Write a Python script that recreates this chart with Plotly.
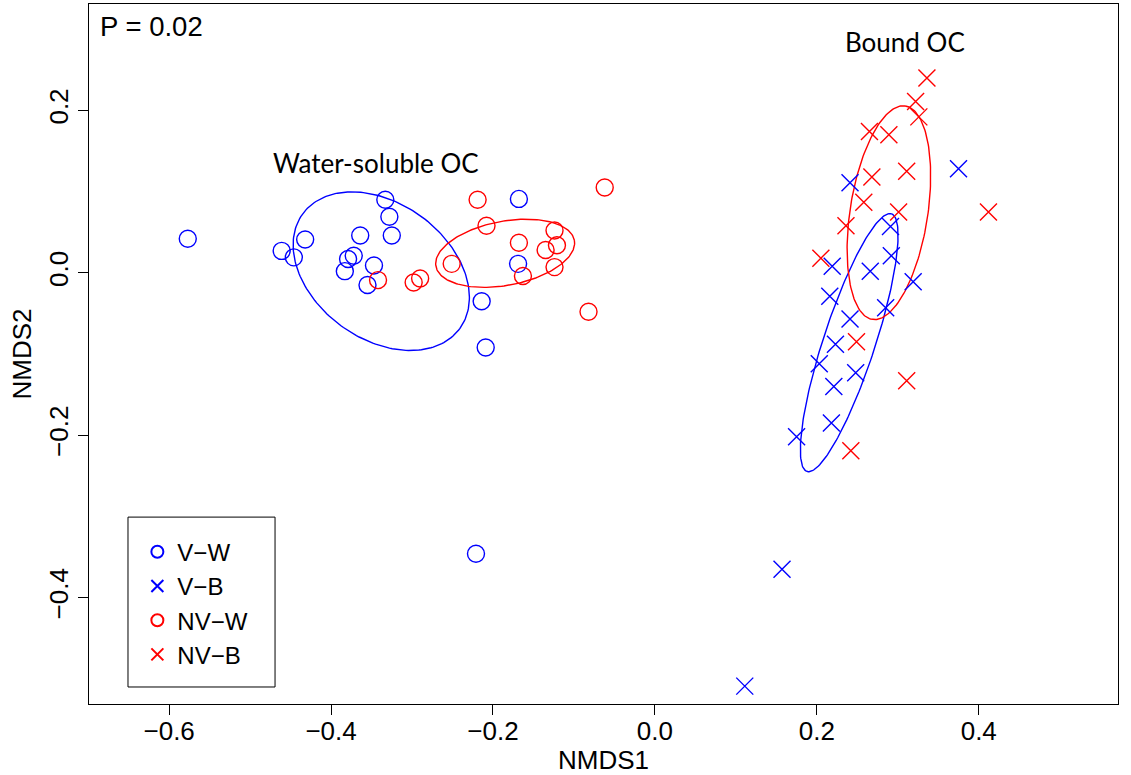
import numpy as np
import plotly.graph_objects as go

# ---- data (NMDS scores) ----
vw_x = [-0.577, -0.461, -0.446, -0.432, -0.333, -0.328, -0.325, -0.364, -0.372,
        -0.379, -0.383, -0.347, -0.355, -0.214, -0.209, -0.168, -0.169, -0.221]
vw_y = [0.042, 0.027, 0.019, 0.041, 0.090, 0.069, 0.046, 0.046, 0.021,
        0.017, 0.002, 0.009, -0.015, -0.035, -0.092, 0.091, 0.011, -0.346]

nvw_x = [-0.342, -0.298, -0.290, -0.251, -0.219, -0.208, -0.168, -0.163,
         -0.124, -0.121, -0.135, -0.124, -0.062, -0.082]
nvw_y = [-0.009, -0.012, -0.007, 0.011, 0.090, 0.058, 0.037, -0.004,
         0.052, 0.034, 0.028, 0.007, 0.105, -0.048]

vb_x = [0.241, 0.375, 0.291, 0.292, 0.219, 0.266, 0.319, 0.216, 0.285,
        0.241, 0.223, 0.203, 0.248, 0.221, 0.218, 0.175, 0.157, 0.111]
vb_y = [0.111, 0.128, 0.057, 0.021, 0.008, 0.002, -0.011, -0.029, -0.043,
        -0.057, -0.088, -0.112, -0.123, -0.140, -0.185, -0.202, -0.365, -0.509]

nvb_x = [0.336, 0.322, 0.326, 0.265, 0.289, 0.268, 0.311, 0.258, 0.301,
         0.236, 0.412, 0.205, 0.249, 0.311, 0.242]
nvb_y = [0.240, 0.211, 0.192, 0.174, 0.170, 0.118, 0.125, 0.087, 0.075,
         0.058, 0.075, 0.018, -0.085, -0.133, -0.219]

group_names = ["V\u2212W", "V\u2212B", "NV\u2212W", "NV\u2212B"]

# ellipse summaries (centre, semi-axes, rotation in degrees) per group
ell_groups = ["V\u2212W", "NV\u2212W", "V\u2212B", "NV\u2212B"]
ell_cx = [-0.338, -0.185, 0.240, 0.289]
ell_cy = [0.002, 0.024, -0.086, 0.074]
ell_a = [0.120, 0.087, 0.167, 0.133]
ell_b = [0.0836, 0.0395, 0.032, 0.048]
ell_angle = [-35.9, 10.6, 71.8, 81.2]

x_ticks = [-0.6, -0.4, -0.2, 0.0, 0.2, 0.4]
y_ticks = [-0.4, -0.2, 0.0, 0.2]

BLUE = "#0000FF"
RED = "#FF0000"
ell_colors = {"V\u2212W": BLUE, "NV\u2212W": RED, "V\u2212B": BLUE, "NV\u2212B": RED}

fig = go.Figure()

# ellipses
t = np.linspace(0, 2 * np.pi, 200)
for g, cx, cy, a, b, ang in zip(ell_groups, ell_cx, ell_cy, ell_a, ell_b, ell_angle):
    th = np.deg2rad(ang)
    ex = cx + a * np.cos(t) * np.cos(th) - b * np.sin(t) * np.sin(th)
    ey = cy + a * np.cos(t) * np.sin(th) + b * np.sin(t) * np.cos(th)
    fig.add_trace(go.Scatter(x=ex, y=ey, mode="lines", showlegend=False,
                             hoverinfo="skip",
                             line=dict(color=ell_colors[g], width=1.4)))

series = [
    (group_names[0], vw_x, vw_y, "circle-open", BLUE, 17),
    (group_names[1], vb_x, vb_y, "x-thin-open", BLUE, 17),
    (group_names[2], nvw_x, nvw_y, "circle-open", RED, 17),
    (group_names[3], nvb_x, nvb_y, "x-thin-open", RED, 17),
]
for name, xs, ys, sym, col, size in series:
    fig.add_trace(go.Scatter(
        x=xs, y=ys, mode="markers", name=name,
        marker=dict(symbol=sym, size=size, color=col,
                    line=dict(color=col, width=1.4)),
    ))

fig.add_annotation(x=-0.344, y=0.135, text="Water-soluble OC", showarrow=False,
                   font=dict(family="Lato", size=26, color="black"))
fig.add_annotation(x=0.309, y=0.284, text="Bound OC", showarrow=False,
                   font=dict(family="Lato", size=26, color="black"))
fig.add_annotation(x=0.0085, y=0.968, xref="paper", yref="paper",
                   xanchor="left", yanchor="middle", text="P = 0.02",
                   showarrow=False,
                   font=dict(family="Liberation Sans", size=27.5, color="black"))

# legend frame
fig.add_shape(type="rect", xref="paper", yref="paper",
              x0=0.0379, x1=0.1808, y0=0.0243, y1=0.267,
              line=dict(color="black", width=1), fillcolor="white", layer="below")

axis_common = dict(
    showline=True, linecolor="black", linewidth=1, mirror=True,
    ticks="outside", ticklen=10, tickcolor="black", tickwidth=1,
    showgrid=False, zeroline=False, tickformat=".1f", automargin=False,
    tickfont=dict(family="Liberation Sans", size=26, color="black"),
)

fig.update_layout(
    width=1131, height=775,
    margin=dict(l=89, r=13, t=4, b=71),
    plot_bgcolor="white", paper_bgcolor="white",
    xaxis=dict(range=[-0.699, 0.572], tickvals=x_ticks, ticklabelstandoff=-6,
               title=dict(text="NMDS1", standoff=4,
                          font=dict(family="Liberation Sans", size=26, color="black")),
               **axis_common),
    yaxis=dict(range=[-0.531, 0.331], tickvals=y_ticks, tickangle=-90,
               title=dict(text="NMDS2", standoff=4,
                          font=dict(family="Liberation Sans", size=26, color="black")),
               **axis_common),
    legend=dict(x=0.047, y=0.249, xanchor="left", yanchor="top",
                bgcolor="rgba(0,0,0,0)", borderwidth=0,
                itemsizing="constant",
                font=dict(family="Liberation Sans", size=24, color="black")),
    showlegend=True,
)

fig.write_html("out.html")
